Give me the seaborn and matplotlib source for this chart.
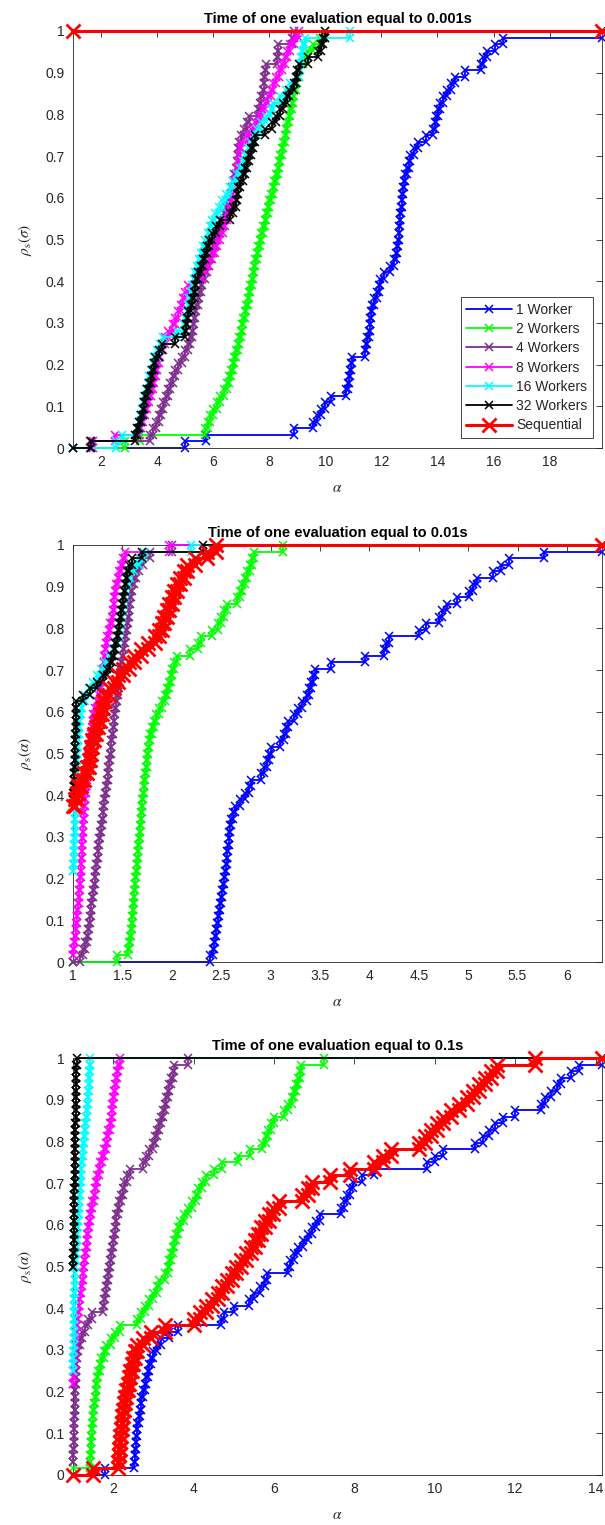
import numpy as np
import pandas as pd
import matplotlib
matplotlib.use("Agg")
import matplotlib.pyplot as plt
import seaborn as sns

# ---------------------------------------------------------------------------
# Performance-profile data: 64 test problems.  For every solver and panel we
# keep the number of problems on which it is the fastest (ratio 1) and the
# sorted performance ratios that are larger than 1.
# ---------------------------------------------------------------------------
N_PROBLEMS = 64

labels = ["1 Worker", "2 Workers", "4 Workers", "8 Workers",
          "16 Workers", "32 Workers", "Sequential"]
colors = ["#0000ff", "#00ff00", "#7e2f8e", "#ff00ff",
          "#00ffff", "#000000", "#ff0000"]

titles = ["Time of one evaluation equal to 0.001s",
          "Time of one evaluation equal to 0.01s",
          "Time of one evaluation equal to 0.1s"]
ylabels = [r"$\rho_{\rm s}(\sigma)$", r"$\rho_{\rm s}(\alpha)$", r"$\rho_{\rm s}(\alpha)$"]

x_max = [19.87, 6.355, 14.16]
x_ticks = [[2, 4, 6, 8, 10, 12, 14, 16, 18],
           [1, 1.5, 2, 2.5, 3, 3.5, 4, 4.5, 5, 5.5, 6],
           [2, 4, 6, 8, 10, 12, 14]]
y_ticks = [0, 0.1, 0.2, 0.3, 0.4, 0.5, 0.6, 0.7, 0.8, 0.9, 1]

# ----- 0.001 s per evaluation ---------------------------------------------
p1_best = [0, 0, 0, 0, 0, 0, 64]
p1_w1 = [5.0, 5.75, 8.9, 9.55, 9.7, 9.85, 10.0, 10.2, 10.75, 10.8,
         10.84, 10.88, 10.91, 10.95, 11.4, 11.45, 11.5, 11.55, 11.58, 11.61,
         11.64, 11.67, 11.75, 11.85, 11.92, 11.96, 12.1, 12.3, 12.45, 12.52,
         12.56, 12.6, 12.62, 12.64, 12.66, 12.68, 12.7, 12.72, 12.75, 12.78,
         12.81, 12.85, 12.92, 12.98, 13.03, 13.15, 13.3, 13.6, 13.85, 13.9,
         13.95, 14.02, 14.09, 14.2, 14.35, 14.5, 14.63, 14.98, 15.55, 15.64,
         15.76, 16.05, 16.35]
p1_w2 = [2.86, 3.4, 5.7, 5.8, 5.9, 6.0, 6.12, 6.25, 6.38, 6.5,
         6.58, 6.64, 6.7, 6.76, 6.82, 6.88, 6.93, 6.98, 7.03, 7.08,
         7.13, 7.18, 7.23, 7.28, 7.33, 7.38, 7.42, 7.46, 7.5, 7.55,
         7.6, 7.66, 7.72, 7.78, 7.84, 7.9, 7.95, 8.0, 8.06, 8.12,
         8.18, 8.24, 8.3, 8.35, 8.4, 8.45, 8.5, 8.55, 8.6, 8.65,
         8.7, 8.75, 8.8, 8.85, 8.9, 8.95, 9.0, 9.05, 9.1, 9.2,
         9.35, 9.55, 9.8, 9.98]
p1_w4 = [1.6, 3.75, 3.85, 3.95, 4.05, 4.15, 4.22, 4.3, 4.38, 4.46,
         4.55, 4.65, 4.75, 4.88, 5.0, 5.1, 5.18, 5.24, 5.28, 5.32,
         5.36, 5.4, 5.45, 5.5, 5.55, 5.6, 5.7, 5.78, 5.86, 5.94,
         6.0, 6.08, 6.15, 6.22, 6.3, 6.38, 6.44, 6.52, 6.6, 6.66,
         6.72, 6.76, 6.8, 6.84, 6.87, 6.9, 6.93, 7.0, 7.1, 7.2,
         7.28, 7.6, 7.68, 7.72, 7.76, 7.8, 7.83, 7.86, 7.9, 8.28,
         8.3, 8.33, 8.82, 8.9]
p1_w8 = [1.7, 2.5, 3.35, 3.42, 3.5, 3.58, 3.65, 3.72, 3.8, 3.85,
         3.9, 3.95, 4.0, 4.05, 4.12, 4.2, 4.28, 4.4, 4.55, 4.65,
         4.75, 4.85, 4.92, 5.0, 5.1, 5.3, 5.6, 5.75, 5.85, 5.95,
         6.05, 6.15, 6.25, 6.35, 6.42, 6.5, 6.55, 6.62, 6.68, 6.72,
         6.76, 6.8, 6.84, 6.88, 6.91, 6.94, 7.0, 7.2, 7.35, 7.5,
         7.65, 7.75, 7.85, 7.95, 8.05, 8.15, 8.25, 8.35, 8.45, 8.55,
         8.65, 8.75, 8.9, 9.05]
p1_w16 = [2.55, 2.75, 3.3, 3.35, 3.4, 3.45, 3.5, 3.55, 3.6, 3.66,
          3.72, 3.78, 3.84, 3.9, 3.98, 4.1, 4.2, 4.7, 4.95, 5.0,
          5.05, 5.1, 5.15, 5.2, 5.25, 5.3, 5.35, 5.42, 5.5, 5.58,
          5.65, 5.72, 5.8, 5.88, 5.95, 6.05, 6.2, 6.3, 6.45, 6.6,
          6.72, 6.85, 6.95, 7.05, 7.15, 7.25, 7.35, 7.45, 7.55, 7.7,
          7.9, 8.05, 8.15, 8.4, 8.6, 8.75, 8.95, 9.05, 9.1, 9.15,
          9.18, 9.22, 9.26, 10.88]
p1_w32 = [1.65, 3.21, 3.3, 3.37, 3.43, 3.48, 3.53, 3.58, 3.63, 3.7,
          3.77, 3.83, 3.88, 3.94, 4.05, 4.18, 4.65, 5.0, 5.02, 5.05,
          5.1, 5.2, 5.25, 5.3, 5.35, 5.37, 5.45, 5.55, 5.62, 5.7,
          5.78, 5.85, 5.95, 6.1, 6.25, 6.6, 6.72, 6.8, 6.85, 6.9,
          6.94, 7.05, 7.13, 7.2, 7.28, 7.35, 7.42, 7.5, 7.85, 8.1,
          8.25, 8.38, 8.5, 8.62, 8.72, 8.88, 8.95, 9.0, 9.07, 9.4,
          9.75, 9.85, 9.92, 9.98]
p1_seq = []

# ----- 0.01 s per evaluation ----------------------------------------------
p2_best = [0, 0, 0, 1, 14, 25, 24]
p2_w1 = [2.39, 2.42, 2.43, 2.44, 2.45, 2.46, 2.47, 2.48, 2.49, 2.5,
         2.51, 2.52, 2.53, 2.54, 2.55, 2.555, 2.56, 2.57, 2.575, 2.58,
         2.59, 2.6, 2.62, 2.64, 2.69, 2.74, 2.78, 2.8, 2.9, 2.93,
         2.96, 2.98, 3.0, 3.1, 3.14, 3.16, 3.18, 3.24, 3.28, 3.32,
         3.37, 3.39, 3.41, 3.43, 3.45, 3.61, 3.96, 4.15, 4.17, 4.2,
         4.5, 4.57, 4.7, 4.74, 4.79, 4.89, 5.01, 5.05, 5.09, 5.25,
         5.33, 5.41, 5.77]
p2_w2 = [1.45, 1.56, 1.57, 1.58, 1.59, 1.595, 1.6, 1.605, 1.61, 1.615,
         1.62, 1.625, 1.63, 1.64, 1.645, 1.65, 1.655, 1.66, 1.67, 1.675,
         1.68, 1.685, 1.69, 1.695, 1.7, 1.71, 1.715, 1.72, 1.73, 1.735,
         1.745, 1.75, 1.76, 1.77, 1.78, 1.8, 1.82, 1.84, 1.87, 1.9,
         1.93, 1.95, 1.97, 1.99, 2.0, 2.02, 2.05, 2.18, 2.27, 2.3,
         2.41, 2.47, 2.5, 2.53, 2.56, 2.66, 2.69, 2.71, 2.74, 2.76,
         2.79, 2.81, 2.83, 3.13]
p2_w4 = [1.07, 1.1, 1.12, 1.14, 1.15, 1.16, 1.17, 1.18, 1.185, 1.19,
         1.2, 1.21, 1.22, 1.225, 1.23, 1.24, 1.25, 1.255, 1.26, 1.27,
         1.28, 1.29, 1.3, 1.305, 1.31, 1.32, 1.33, 1.34, 1.35, 1.355,
         1.36, 1.37, 1.38, 1.385, 1.39, 1.4, 1.41, 1.42, 1.43, 1.44,
         1.45, 1.46, 1.47, 1.475, 1.48, 1.49, 1.5, 1.51, 1.52, 1.53,
         1.54, 1.55, 1.56, 1.565, 1.57, 1.58, 1.59, 1.6, 1.62, 1.64,
         1.67, 1.71, 1.78, 2.0]
p2_w8 = [1.005, 1.01, 1.02, 1.03, 1.035, 1.04, 1.045, 1.05, 1.06,
         1.065, 1.07, 1.074, 1.078, 1.082, 1.085, 1.088, 1.091, 1.094, 1.097,
         1.1, 1.105, 1.11, 1.115, 1.12, 1.125, 1.13, 1.135, 1.14, 1.145,
         1.15, 1.156, 1.165, 1.175, 1.185, 1.195, 1.2, 1.205, 1.22, 1.24,
         1.26, 1.27, 1.28, 1.29, 1.3, 1.31, 1.315, 1.32, 1.33, 1.345,
         1.36, 1.375, 1.39, 1.4, 1.41, 1.42, 1.43, 1.44, 1.455, 1.47,
         1.49, 1.51, 1.53, 1.97]
p2_w16 = [1.005, 1.008, 1.01, 1.012, 1.014, 1.016, 1.018, 1.02, 1.022, 1.024,
          1.026, 1.028, 1.03, 1.032, 1.034, 1.036, 1.038, 1.04, 1.045, 1.05,
          1.055, 1.06, 1.065, 1.07, 1.08, 1.09, 1.12, 1.16, 1.2, 1.24,
          1.28, 1.32, 1.36, 1.4, 1.43, 1.46, 1.47, 1.48, 1.49, 1.5,
          1.51, 1.52, 1.53, 1.54, 1.56, 1.58, 1.62, 1.67, 1.72, 2.19]
p2_w32 = [1.005, 1.008, 1.01, 1.012, 1.014, 1.016, 1.018, 1.02, 1.022, 1.024,
          1.026, 1.028, 1.03, 1.032, 1.035, 1.1, 1.17, 1.24, 1.3, 1.34,
          1.37, 1.39, 1.41, 1.43, 1.45, 1.46, 1.47, 1.48, 1.49, 1.5,
          1.51, 1.52, 1.53, 1.54, 1.55, 1.57, 1.6, 1.7, 2.32]
p2_seq = [1.02, 1.04, 1.05, 1.08, 1.11, 1.14, 1.16, 1.17, 1.18, 1.19,
          1.21, 1.23, 1.25, 1.27, 1.29, 1.3, 1.32, 1.36, 1.41, 1.46,
          1.51, 1.57, 1.62, 1.69, 1.76, 1.83, 1.87, 1.9, 1.92, 1.95,
          1.97, 2.0, 2.02, 2.05, 2.08, 2.12, 2.15, 2.24, 2.36, 2.45]

# ----- 0.1 s per evaluation -----------------------------------------------
p3_best = [0, 1, 2, 14, 16, 32, 0]
p3_w1 = [1.8, 2.52, 2.54, 2.55, 2.56, 2.57, 2.58, 2.6, 2.63, 2.66,
         2.68, 2.7, 2.74, 2.78, 2.82, 2.86, 2.9, 2.95, 3.0, 3.08,
         3.2, 3.4, 3.6, 4.67, 4.75, 5.0, 5.38, 5.5, 5.65, 5.78,
         5.83, 6.35, 6.4, 6.5, 6.6, 6.72, 6.85, 6.95, 7.05, 7.15,
         7.67, 7.75, 7.82, 7.9, 7.96, 8.2, 8.5, 9.8, 10.0, 10.2,
         11.0, 11.2, 11.35, 11.5, 11.7, 12.0, 12.65, 12.75, 12.9, 13.05,
         13.15, 13.4, 13.6]
p3_w2 = [1.42, 1.43, 1.44, 1.45, 1.46, 1.47, 1.48, 1.49, 1.5, 1.52,
         1.54, 1.56, 1.58, 1.6, 1.63, 1.66, 1.7, 1.76, 1.83, 1.95,
         2.05, 2.17, 2.6, 2.7, 2.8, 2.9, 3.0, 3.08, 3.13, 3.3,
         3.36, 3.4, 3.44, 3.48, 3.52, 3.56, 3.6, 3.66, 3.75, 3.85,
         3.95, 4.05, 4.12, 4.2, 4.3, 4.5, 4.7, 5.1, 5.4, 5.7,
         5.8, 5.85, 5.92, 6.0, 6.25, 6.35, 6.45, 6.5, 6.55, 6.6,
         6.64, 6.68, 7.25]
p3_w4 = [1.005, 1.01, 1.015, 1.02, 1.025, 1.03, 1.035, 1.04, 1.045, 1.05,
         1.055, 1.06, 1.065, 1.07, 1.075, 1.08, 1.09,
         1.12, 1.17, 1.23, 1.3, 1.38, 1.48, 1.74, 1.78, 1.8, 1.83,
         1.85, 1.87, 1.9, 1.93, 1.95, 1.97, 1.99, 2.02, 2.04, 2.06,
         2.08, 2.12, 2.15, 2.2, 2.24, 2.28, 2.34, 2.42, 2.75, 2.82,
         2.9, 2.98, 3.04, 3.1, 3.14, 3.2, 3.24, 3.28, 3.32, 3.36,
         3.4, 3.44, 3.48, 3.52, 3.85]
p3_w8 = [1.01, 1.02, 1.03, 1.04, 1.05, 1.06, 1.07, 1.08, 1.09, 1.1,
         1.12, 1.14, 1.16, 1.18, 1.2, 1.22, 1.24, 1.26, 1.28, 1.3,
         1.32, 1.34, 1.36, 1.38, 1.4, 1.42, 1.45, 1.48, 1.51, 1.54,
         1.57, 1.6, 1.64, 1.68, 1.72, 1.77, 1.82, 1.85, 1.88, 1.91,
         1.94, 1.96, 1.98, 2.0, 2.02, 2.04, 2.07, 2.1, 2.13, 2.17]
p3_w16 = [1.005, 1.008, 1.01, 1.013, 1.016, 1.019, 1.022, 1.025, 1.028, 1.031,
          1.034, 1.037, 1.04, 1.043, 1.046, 1.05, 1.06, 1.07, 1.08, 1.09,
          1.1, 1.11, 1.12, 1.13, 1.14, 1.15, 1.16, 1.17, 1.18, 1.19,
          1.2, 1.21, 1.22, 1.24, 1.26, 1.28, 1.3, 1.31, 1.33, 1.35,
          1.36, 1.37, 1.38, 1.39, 1.4, 1.41, 1.415, 1.42]
p3_w32 = [1.01, 1.012, 1.015, 1.017, 1.02, 1.022, 1.025, 1.027, 1.03, 1.032,
          1.035, 1.037, 1.04, 1.042, 1.045, 1.047, 1.05, 1.052, 1.055, 1.057,
          1.06, 1.062, 1.065, 1.067, 1.07, 1.072, 1.075, 1.077, 1.08, 1.082,
          1.085, 1.09]
p3_seq = [1.5, 2.12, 2.14, 2.15, 2.16, 2.17, 2.19, 2.21, 2.23, 2.25,
          2.27, 2.3, 2.33, 2.36, 2.39, 2.42, 2.46, 2.5, 2.55, 2.6,
          2.75, 2.95, 3.3, 4.0, 4.15, 4.3, 4.45, 4.6, 4.7, 4.82,
          4.95, 5.05, 5.17, 5.3, 5.42, 5.52, 5.6, 5.68, 5.78, 5.88,
          5.98, 6.13, 6.7, 6.85, 6.95, 7.4, 7.9, 8.5, 8.7, 8.9,
          9.6, 9.75, 9.9, 10.05, 10.2, 10.4, 10.6, 10.8, 10.95, 11.1,
          11.25, 11.4, 11.55, 12.5]

panels = [
    (p1_best, [p1_w1, p1_w2, p1_w4, p1_w8, p1_w16, p1_w32, p1_seq]),
    (p2_best, [p2_w1, p2_w2, p2_w4, p2_w8, p2_w16, p2_w32, p2_seq]),
    (p3_best, [p3_w1, p3_w2, p3_w4, p3_w8, p3_w16, p3_w32, p3_seq]),
]


def profile_steps(n_best, ratios, n, xmax):
    """Staircase vertices of a performance profile rho(alpha)."""
    r = np.sort(np.asarray(ratios, dtype=float))
    r = r[r <= xmax]
    count = n_best
    xs, ys = [1.0], [count / n]
    for v in r:
        xs += [v, v]
        ys += [count / n, (count + 1) / n]
        count += 1
    xs.append(xmax)
    ys.append(count / n)
    return pd.DataFrame({"alpha": xs, "rho": ys})


sns.set_style("white")
plt.rcParams["font.family"] = ["Liberation Sans", "DejaVu Sans"]
plt.rcParams["mathtext.fontset"] = "stix"

axis_color = "#262626"
fig = plt.figure(figsize=(6.05, 15.25), dpi=100)
left, width, height = 73 / 605, 529 / 605, 417 / 1525
bottoms = [(1525 - 448) / 1525, (1525 - 962) / 1525, (1525 - 1475) / 1525]

for p, (best, series) in enumerate(panels):
    ax = fig.add_axes([left, bottoms[p], width, height])
    for i, (lab, col, ratios) in enumerate(zip(labels, colors, series)):
        df = profile_steps(best[i], ratios, N_PROBLEMS, x_max[p])
        is_seq = lab == "Sequential"
        sns.lineplot(data=df, x="alpha", y="rho", ax=ax, sort=False,
                     estimator=None, color=col, label=lab, legend=False,
                     marker="x", markersize=9.5 if is_seq else 5.5,
                     mec=col, mew=2.0 if is_seq else 1.1,
                     lw=2.2 if is_seq else 1.3, zorder=2 + i,
                     clip_on=False)

    ax.set_xlim(1, x_max[p])
    ax.set_ylim(0, 1)
    ax.set_xticks(x_ticks[p])
    ax.set_xticklabels([f"{t:g}" for t in x_ticks[p]])
    ax.set_yticks(y_ticks)
    ax.set_yticklabels([f"{t:g}" for t in y_ticks])
    ax.tick_params(direction="in", top=True, right=True, length=4,
                   width=0.6, color=axis_color, labelcolor=axis_color,
                   labelsize=10)
    ax.tick_params(axis="y", pad=6)
    ax.tick_params(axis="x", pad=5)
    for s in ax.spines.values():
        s.set_color(axis_color)
        s.set_linewidth(0.6)
        s.set_visible(True)
    title = ax.set_title(titles[p], fontsize=10.5, fontweight="bold", pad=6,
                         color="black")
    title.set_zorder(30)
    ax.set_xlabel(r"$\alpha$", fontsize=11, color=axis_color, labelpad=9)
    ax.set_ylabel(ylabels[p], fontsize=11, color=axis_color, labelpad=8)

    if p == 0:
        leg = ax.legend(loc="lower right", bbox_to_anchor=(0.983, 0.024),
                        borderaxespad=0, fontsize=10, handlelength=3.3,
                        handletextpad=0.3, labelspacing=0.38,
                        fancybox=False, framealpha=1, borderpad=0.4)
        leg.get_frame().set_edgecolor(axis_color)
        leg.get_frame().set_linewidth(0.6)
        leg.set_zorder(20)

fig.savefig("out.png", dpi=100)
